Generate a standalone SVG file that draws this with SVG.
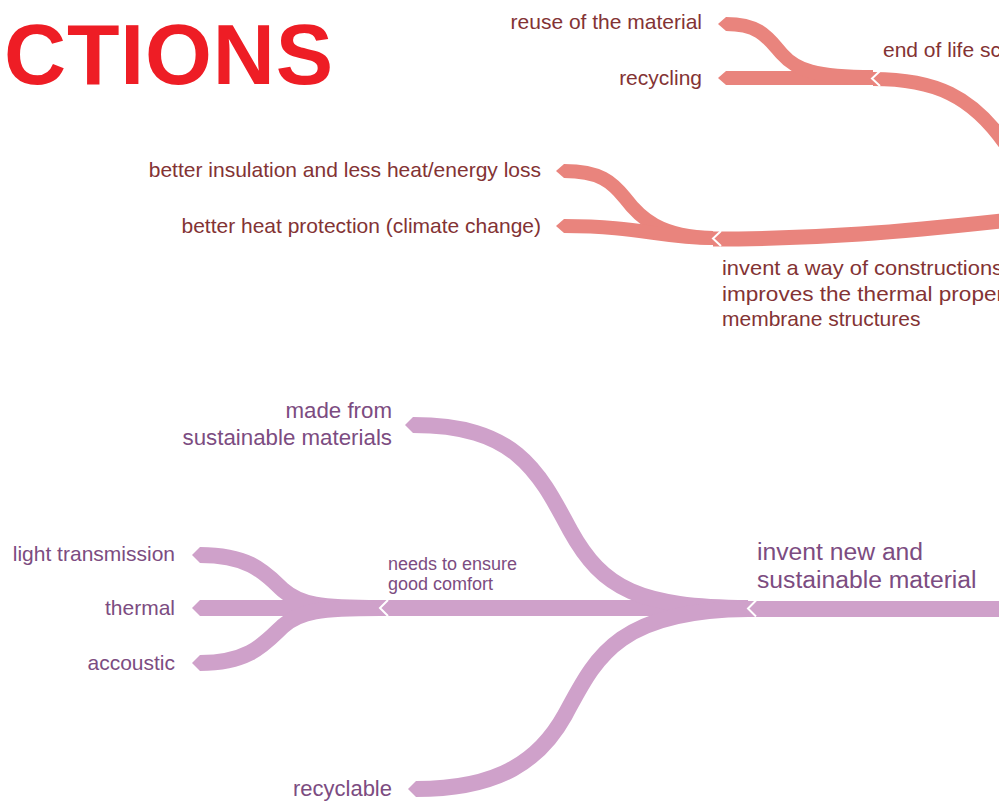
<svg xmlns="http://www.w3.org/2000/svg" width="999" height="802" viewBox="0 0 999 802">
<style>
.red{fill:none;stroke:#E9847D;stroke-width:14}
.pur{fill:none;stroke:#CFA1CA;stroke-width:16}
.notch{fill:none;stroke:#FFFFFF;stroke-width:2}
.tr{font-family:"Liberation Sans",Arial,sans-serif;font-size:21px;fill:#833334}
.tp{font-family:"Liberation Sans",Arial,sans-serif;font-size:21px;fill:#7C4C81}
.title{font-family:"Liberation Sans",Arial,sans-serif;font-weight:700;font-size:86px;fill:#EE1D25}
</style>
<defs>
<marker id="tipR" markerUnits="userSpaceOnUse" markerWidth="12" markerHeight="16" refX="0" refY="7" orient="auto-start-reverse" viewBox="0 0 12 14">
<polygon points="0,0 8,7 0,14" fill="#E9847D"/>
</marker>
<marker id="tipP" markerUnits="userSpaceOnUse" markerWidth="12" markerHeight="18" refX="0" refY="8" orient="auto-start-reverse" viewBox="0 0 12 16">
<polygon points="0,0 8,8 0,16" fill="#CFA1CA"/>
</marker>
</defs>
<rect width="999" height="802" fill="#FFFFFF"/>
<text class="title" x="4" y="84" textLength="329" lengthAdjust="spacing">CTIONS</text>
<g id="connectors">
<path class="red" d="M 873,79 C 935,79 972,96 1006,145"/>
<path class="red" d="M 726,78 L 873,78" marker-start="url(#tipR)"/>
<path class="red" d="M 726,24 C 760,24 768,38 782,54 C 796,70 815,77 873,77" marker-start="url(#tipR)"/>
<path class="red" style="stroke-width:15" d="M 713,239 C 820,239 900,232 1010,220"/>
<path class="red" d="M 564,171 C 600,171 612,182 625,198 C 640,218 660,237 713,238" marker-start="url(#tipR)"/>
<path class="red" d="M 564,226 C 640,226 660,238 713,238" marker-start="url(#tipR)"/>
<path class="pur" d="M 748,609 L 1010,609"/>
<path class="pur" d="M 380,608 L 748,608"/>
<path class="pur" d="M 413,425 C 515,425 538,470 570,530 C 603,590 640,607 748,608" marker-start="url(#tipP)"/>
<path class="pur" d="M 416,789 C 500,789 540,760 565,715 C 595,660 615,610 748,609" marker-start="url(#tipP)"/>
<path class="pur" d="M 200,555 C 250,555 265,573 283,590 C 300,605 320,608 380,608" marker-start="url(#tipP)"/>
<path class="pur" d="M 200,608 L 380,608" marker-start="url(#tipP)"/>
<path class="pur" d="M 200,663 C 250,663 265,643 283,626 C 300,611 320,608 380,608" marker-start="url(#tipP)"/>
<polyline class="notch" points="880,71 872,78.5 880,86"/>
<polyline class="notch" points="721,231 713,238.5 721,246"/>
<polyline class="notch" points="388,600 380,608 388,616"/>
<polyline class="notch" points="756,600.5 748,608.5 756,616.5"/>
</g>
<g id="node-end-of-life"><text class="tr" x="883" y="57">end of life sc</text></g>
<g id="node-reuse"><text class="tr" x="702" y="29" text-anchor="end">reuse of the material</text></g>
<g id="node-recycling"><text class="tr" x="702" y="85" text-anchor="end">recycling</text></g>
<g id="node-better-insulation"><text class="tr" x="541" y="177" text-anchor="end">better insulation and less heat/energy loss</text></g>
<g id="node-better-heat"><text class="tr" x="541" y="233" text-anchor="end">better heat protection (climate change)</text></g>
<g id="node-invent-way">
<text class="tr" x="722" y="275" textLength="281" lengthAdjust="spacingAndGlyphs">invent a way of constructions</text>
<text class="tr" x="722" y="301" textLength="282" lengthAdjust="spacingAndGlyphs">improves the thermal proper</text>
<text class="tr" x="722" y="326">membrane structures</text>
</g>
<g id="node-made-from">
<text class="tp" style="font-size:22.3px" x="392" y="418" text-anchor="end">made from</text>
<text class="tp" style="font-size:22.3px" x="392" y="445" text-anchor="end">sustainable materials</text>
</g>
<g id="node-light"><text class="tp" x="175" y="561" text-anchor="end">light transmission</text></g>
<g id="node-thermal"><text class="tp" x="175" y="615" text-anchor="end">thermal</text></g>
<g id="node-accoustic"><text class="tp" x="175" y="670" text-anchor="end">accoustic</text></g>
<g id="node-comfort">
<text class="tp" style="font-size:18px" x="388" y="570">needs to ensure</text>
<text class="tp" style="font-size:18px" x="388" y="590">good comfort</text>
</g>
<g id="node-invent-new">
<text class="tp" style="font-size:24.7px" x="757" y="560">invent new and</text>
<text class="tp" style="font-size:24.7px" x="757" y="588">sustainable material</text>
</g>
<g id="node-recyclable"><text class="tp" style="font-size:22px" x="392" y="796" text-anchor="end">recyclable</text></g>
</svg>
